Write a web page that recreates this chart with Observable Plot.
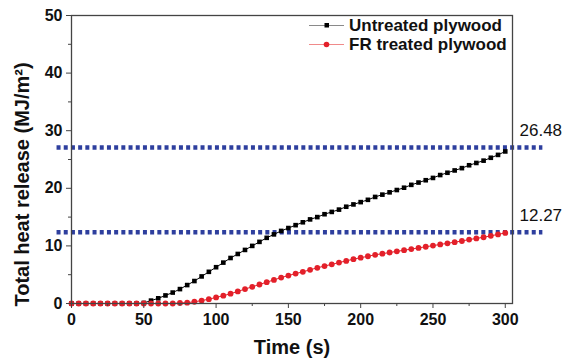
<!DOCTYPE html>
<html>
<head>
<meta charset="utf-8">
<script src="https://cdn.jsdelivr.net/npm/d3@7"></script>
<script src="https://cdn.jsdelivr.net/npm/@observablehq/plot@0.6"></script>
<style>
  body { margin: 0; background: #fff; }
  #wrap { position: relative; width: 565px; height: 360px; font-family: "Liberation Sans", Arial, sans-serif; }
  #legend { position: absolute; left: 309px; top: 16px; font-weight: bold; font-size: 17px; color: #111; }
  .row { display: flex; align-items: center; height: 19px; }
  .row svg { margin-right: 5px; }
</style>
</head>
<body>
<div id="wrap"></div>
<script>
const times = [0,5,10,15,20,25,30,35,40,45,50,55,60,65,70,75,80,85,90,95,100,105,110,115,120,125,130,135,140,145,150,155,160,165,170,175,180,185,190,195,200,205,210,215,220,225,230,235,240,245,250,255,260,265,270,275,280,285,290,295,300];
const untreated = [0,0,0,0,0,0,0,0,0,0,
  0.1,0.5,0.9,1.4,1.9,2.5,3.2,3.9,4.7,5.5,
  6.3,7.1,7.9,8.6,9.3,10.0,10.7,11.4,12.0,12.6,
  13.1,13.6,14.1,14.6,15.0,15.5,15.9,16.3,16.8,17.2,
  17.6,18.0,18.5,18.9,19.3,19.7,20.1,20.6,21.0,21.4,
  21.8,22.3,22.7,23.1,23.5,24.0,24.4,24.8,25.3,25.8,
  26.4];
const frTreated = [0,0,0,0,0,0,0,0,0,0,0,0,0,0,0,
  0.1,0.15,0.3,0.5,0.75,1.05,1.35,1.7,2.1,2.5,2.9,3.3,3.7,4.1,4.5,
  4.85,5.2,5.5,5.85,6.2,6.5,6.8,7.1,7.4,7.7,
  7.95,8.2,8.45,8.65,8.85,9.05,9.25,9.45,9.65,9.85,
  10.05,10.25,10.45,10.65,10.85,11.1,11.3,11.5,11.75,12.0,
  12.25];
const seriesNames = ["Untreated plywood", "FR treated plywood"];
const refLevels = [27.1, 12.35];
const refLabels = ["26.48", "12.27"];
const refSpan = [-10, 326];
const xTicks = [0,50,100,150,200,250,300];
const xMinor = [25,75,125,175,225,275];
const yTicks = [0,10,20,30,40,50];
const yMinor = [5,15,25,35,45];

const rowsU = times.map((t,i)=>({t, v: untreated[i]}));
const rowsF = times.map((t,i)=>({t, v: frTreated[i]}));
const refs = refLevels.map((v,i)=>({v, x1: refSpan[0], x2: refSpan[1], label: refLabels[i]}));

const blue = "#2e3f9e", red = "#e3202a", axisC = "#444";

const chart = Plot.plot({
  width: 565, height: 360,
  marginLeft: 71, marginRight: 53, marginTop: 15, marginBottom: 57,
  style: {fontFamily: '"Liberation Sans", Arial, sans-serif', fontSize: "16px", fontWeight: "bold", color: "#111", background: "white"},
  x: {domain: [0, 305]},
  y: {domain: [0, 50]},
  marks: [
    Plot.ruleY(refs, {y: "v", x1: "x1", x2: "x2", stroke: blue, strokeWidth: 4.5, strokeDasharray: "4,3.2"}),
    Plot.text(refs, {y: "v", text: "label", frameAnchor: "right", textAnchor: "start", dx: 7, dy: -17, fontWeight: "normal", fontSize: 17, fill: "#111"}),
    Plot.line(rowsU, {x: "t", y: "v", stroke: "#000", strokeWidth: 1}),
    Plot.dot(rowsU, {x: "t", y: "v", symbol: "square", r: 2.6, fill: "#000", stroke: "none"}),
    Plot.line(rowsF, {x: "t", y: "v", stroke: red, strokeWidth: 1}),
    Plot.dot(rowsF, {x: "t", y: "v", r: 2.9, fill: red, stroke: "none"}),
    Plot.frame({stroke: axisC, strokeWidth: 1.3}),
    Plot.axisX({ticks: xTicks, tickSize: 5, tickPadding: 5, stroke: axisC, label: null}),
    Plot.axisX({ticks: xMinor, tickSize: 3, tickFormat: () => "", stroke: axisC, label: null}),
    Plot.axisY({ticks: yTicks, tickSize: 5, tickPadding: 4, stroke: axisC, label: null}),
    Plot.axisY({ticks: yMinor, tickSize: 3, tickFormat: () => "", stroke: axisC, label: null}),
    Plot.text(["Time (s)"], {text: d => d, frameAnchor: "bottom", textAnchor: "middle", lineAnchor: "bottom", dy: 50, fontSize: 20, fontWeight: "bold", fill: "#111"}),
    Plot.text(["Total heat release (MJ/m²)"], {text: d => d, frameAnchor: "left", textAnchor: "middle", rotate: -90, dx: -49, dy: 25, fontSize: 20, fontWeight: "bold", fill: "#111"})
  ]
});

const wrap = document.getElementById("wrap");
wrap.appendChild(chart);

const legend = document.createElement("div");
legend.id = "legend";
const samples = [
  {line: "#8a8a8a", marker: `<rect x="15.5" y="6" width="4.5" height="4.5" fill="#000"/>`},
  {line: "#f08a8a", marker: `<circle cx="17.5" cy="8.5" r="2.8" fill="${red}"/>`}
];
seriesNames.forEach((name, i) => {
  const row = document.createElement("div");
  row.className = "row";
  row.innerHTML = `<svg width="35" height="17"><line x1="0" x2="35" y1="8.5" y2="8.5" stroke="${samples[i].line}" stroke-width="1"/>${samples[i].marker}</svg><span>${name}</span>`;
  legend.appendChild(row);
});
wrap.appendChild(legend);
</script>
</body>
</html>
